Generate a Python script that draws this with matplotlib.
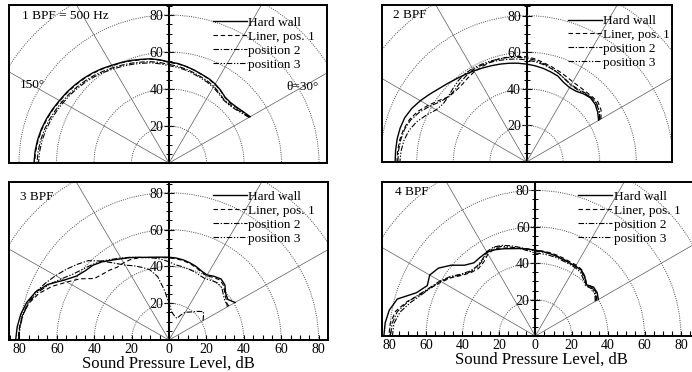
import numpy as np
import matplotlib.pyplot as plt
from matplotlib.patches import Circle
from matplotlib.ticker import MultipleLocator, FixedLocator, FuncFormatter

plt.rcParams['font.family'] = ['Liberation Serif', 'DejaVu Serif']

# polar angle of each measurement, degrees (30 = right side, 180 = left axis)
angles = [30, 35, 40, 45, 50, 55, 60, 65, 70, 75, 80, 85, 90, 95, 100, 105,
          110, 115, 120, 125, 130, 135, 140, 145, 150, 155, 160, 165, 170, 175, 180]

# ---- 1 BPF = 500 Hz ----
bpf1_hard = [50, 48.3, 47, 46.3, 46.5, 48, 49.3, 50.3, 51, 52, 53, 54, 54.6, 56, 57.2, 58,
             59, 60, 61, 62.3, 63.5, 64.6, 65.6, 66.6, 67.5, 68.6, 69.6, 70.5, 71.2, 71.7, 72]
bpf1_pos1 = [49.8, 48.2, 46.8, 46, 46.3, 47.8, 49.1, 50.1, 50.9, 51.9, 52.9, 53.8, 54.4, 55.8, 57, 57.8,
             58.8, 59.8, 60.8, 62, 63.2, 64.3, 65.3, 66.3, 67.2, 68.3, 69.3, 70.2, 70.9, 71.4, 71.7]
bpf1_pos2 = [49.5, 47.5, 46, 45.2, 45.2, 46.5, 47.8, 48.8, 49.6, 50.6, 51.6, 52.5, 53.3, 54.5, 55.6, 56.5,
             57.5, 58.5, 59.5, 60.7, 61.9, 63, 64, 65, 66, 67, 68, 68.9, 69.6, 70.1, 70.4]
bpf1_pos3 = [49.3, 47.2, 45.6, 44.8, 44.8, 46, 47.2, 48.2, 49, 50, 51, 51.9, 52.6, 53.8, 55, 55.8,
             56.8, 57.8, 58.8, 60, 61.2, 62.3, 63.3, 64.3, 65.2, 66.2, 67.2, 68.1, 68.8, 69.3, 69.6]

# ---- 2 BPF ----
bpf2_hard = [45.5, 47.5, 49, 49.5, 48.6, 47.2, 47, 48, 50, 51, 52, 52.8, 53.5, 54.2, 54.8, 55.4,
             56, 56.7, 57.5, 58.4, 59.4, 60.8, 62.4, 64.6, 67, 69.2, 70.8, 71.5, 71.8, 71.8, 71.8]
bpf2_pos1 = [47, 49.7, 51, 50.6, 50.3, 50.3, 50.6, 51.5, 52.6, 53.8, 55, 56.5, 57.5, 58, 58.3, 58.3,
             58, 57.5, 57, 56, 55, 54.8, 55.5, 58.5, 62, 65.5, 68, 69.5, 70.3, 70.7, 70.8]
bpf2_pos2 = [46.5, 48.5, 49.8, 50, 49.5, 48.8, 48.8, 50, 51.5, 52.8, 54, 55, 55.8, 56.5, 57, 57.5,
             58, 58.3, 58.3, 57.5, 56.5, 55.5, 55.5, 57.5, 61, 64.5, 67.3, 69, 69.8, 70.2, 70.3]
bpf2_pos3 = [46, 48.5, 50, 50, 49, 48.3, 48.5, 49.8, 51.5, 53, 54.5, 55.8, 56.8, 57.5, 58, 58.3,
             58.6, 58.8, 59, 58.8, 58, 56.8, 55.8, 55.5, 57, 60.5, 64, 66.5, 68, 68.8, 69.2]

# ---- 3 BPF ----
bpf3_hard = [40.8, 38.4, 39.5, 42.3, 43.3, 42.2, 40.8, 41.3, 42.5, 43.4, 44.2, 44.7, 45, 45.2, 45.7, 46.5,
             47.8, 49.4, 51, 53, 55.5, 57.5, 58.5, 60.5, 65, 71.5, 76, 78.8, 80.5, 81.5, 82]
bpf3_pos1 = [36, 37.5, 39, 41.5, 42.5, 41.5, 40.3, 40.8, 42, 43, 43.8, 44.3, 44.6, 45, 45.5, 46.5,
             47.5, 48.3, 48.5, 48.3, 49.5, 50.5, 52, 58, 63, 69, 74, 77.5, 79.3, 80.3, 80.8]
bpf3_pos2 = [21, 22.5, 24, 22, 20, 18.5, 17.5, 15, 12.5, 13, 14, 15.5, 20, 27, 35, 39.5,
             42, 44.5, 47, 51, 56, 61, 64, 67, 70, 73, 76, 78, 79.5, 80.2, 80.5]
bpf3_pos3 = [37, 36.5, 38, 40, 40.5, 39.5, 38.5, 38.8, 39.5, 40, 40.5, 41, 42.5, 44, 45.2, 46.3,
             47.8, 49.6, 51.5, 53.5, 56, 58, 60, 62.5, 66.5, 71, 75, 77.8, 79.2, 80, 80.3]

# ---- 4 BPF ----
bpf4_hard = [40, 41.5, 41.8, 39.8, 42.3, 44.2, 44.2, 44.3, 44.7, 45.3, 46, 46.6, 47.1, 48, 48.8, 49.7,
             51, 52.3, 53.2, 52.8, 52.5, 55, 60.5, 65, 67, 65.5, 69.5, 78.5, 81.5, 82.8, 83.2]
bpf4_pos1 = [39, 41, 41.5, 40, 42.5, 44.5, 45, 45, 45.5, 46, 46.5, 46.8, 47.2, 48, 49, 50,
             51.5, 53, 52, 49.5, 48.5, 49.5, 52, 56, 59.5, 63, 67, 73, 78, 80, 80.5]
bpf4_pos2 = [38.5, 40.5, 41, 39.5, 41.8, 43.8, 44.3, 44.5, 45, 45.5, 46, 46.3, 46.6, 47.8, 49.5, 51.3,
             53, 54, 53.5, 51, 50, 50.5, 53, 57, 60.5, 63.5, 67.5, 72.5, 77, 79, 79.5]
bpf4_pos3 = [38, 40, 40.5, 39, 41, 43, 43.5, 43.7, 44, 44.5, 45, 45.3, 45.6, 47, 48.8, 50.5,
             52.5, 53.5, 53, 50.5, 49.5, 50, 52.5, 56.5, 60, 63, 66.5, 71, 75.5, 78, 78.5]

series_labels = ['Hard wall', 'Liner, pos. 1', 'position 2', 'position 3']
panel_titles = ['1 BPF = 500 Hz', '2 BPF', '3 BPF', '4 BPF']
panel_data = [
    [bpf1_hard, bpf1_pos1, bpf1_pos2, bpf1_pos3],
    [bpf2_hard, bpf2_pos1, bpf2_pos2, bpf2_pos3],
    [bpf3_hard, bpf3_pos1, bpf3_pos2, bpf3_pos3],
    [bpf4_hard, bpf4_pos1, bpf4_pos2, bpf4_pos3],
]
grid_radii = [20, 40, 60, 80, 100]
grid_angles = [30, 60, 120, 150]
xtick_vals = [-80, -60, -40, -20, 0, 20, 40, 60, 80]

styles = [
    dict(ls='-', lw=1.0),
    dict(ls=(0, (4, 2.5)), lw=0.8),
    dict(ls=(0, (5, 1.5, 1.2, 1.5)), lw=0.8),
    dict(ls=(0, (5, 1.5, 1.2, 1.5, 1.2, 1.5)), lw=0.8),
]

W, H = 692, 372
# layout in pixels: left, right, top, bottom, origin x, px per dB (x), px per dB (y)
layout = [
    (9, 327, 5, 163, 169, 1.875, 1.85),
    (382, 672, 5, 162, 526.5, 1.83, 1.83),
    (9, 328, 182, 340, 169, 1.87, 1.84),
    (382, 700, 182.3, 336, 535.3, 1.82, 1.82),
]
legend_pos = [(0.641, 0.925), (0.640, 0.937), (0.639, 0.945), (0.616, 0.945)]
title_pos = [(0.041, 0.93), (0.037, 0.936), (0.034, 0.907), (0.041, 0.939)]

fig = plt.figure(figsize=(W / 100, H / 100), dpi=100)

for i in range(4):
    l, r, t, b, ox, sx, sy = layout[i]
    ax = fig.add_axes([l / W, 1 - b / H, (r - l) / W, (b - t) / H])
    ax.set_xlim(-(ox - l) / sx, (r - ox) / sx)
    ax.set_ylim(0, (b - t) / sy)
    for s in ax.spines.values():
        s.set_linewidth(1.4)

    # polar grid
    for rad in grid_radii:
        ax.add_patch(Circle((0, 0), rad, fill=False, ls=(0, (1, 1.3)), lw=0.7,
                            ec='0.3', zorder=1))
    for a in grid_angles:
        ax.axline((0, 0), slope=np.tan(np.radians(a)), lw=0.5, color='0.35', zorder=1)

    th = np.radians(angles)
    for vals, lab, st in zip(panel_data[i], series_labels, styles):
        rr = np.array(vals)
        ax.plot(rr * np.cos(th), rr * np.sin(th), color='black', label=lab,
                zorder=3, **st)

    ax.legend(loc='upper left', bbox_to_anchor=legend_pos[i], frameon=False,
              fontsize=9.5, handlelength=2.6, handletextpad=0.1,
              labelspacing=0.13, borderaxespad=0, borderpad=0)

    ax.text(*title_pos[i], panel_titles[i], transform=ax.transAxes,
            fontsize=9.5, ha='left', va='center')

    # centre axis with dB scale
    sec = ax.secondary_yaxis(0, transform=ax.transData)
    sec.set_yticks([20, 40, 60, 80])
    sec.yaxis.set_minor_locator(MultipleLocator(5))
    sec.tick_params(which='major', direction='inout', length=7, width=0.8, pad=0.5,
                    labelsize=10)
    sec.tick_params(which='minor', direction='inout', length=5, width=0.7)
    sec.spines['left'].set_linewidth(1.5)

    ax.set_yticks([])
    if i >= 2:
        ax.xaxis.set_major_locator(FixedLocator(xtick_vals))
        ax.xaxis.set_major_formatter(FuncFormatter(lambda v, p: f'{abs(v):.0f}'))
        ax.xaxis.set_minor_locator(MultipleLocator(5))
        ax.tick_params(axis='x', which='both', direction='in', length=3.5, width=0.8,
                       labelsize=10, pad=2)
        ax.set_xlabel('Sound Pressure Level, dB', fontsize=12, labelpad=0)
    else:
        ax.set_xticks([])

    if i == 0:
        ax.text(84 * np.cos(np.radians(150)), 84 * np.sin(np.radians(150)), '150°',
                fontsize=9.5, ha='center', va='center', zorder=4)
        ax.text(82 * np.cos(np.radians(30)), 82 * np.sin(np.radians(30)), 'θ=30°',
                fontsize=9.5, ha='center', va='center', zorder=4)

fig.savefig('out.png', dpi=100)
